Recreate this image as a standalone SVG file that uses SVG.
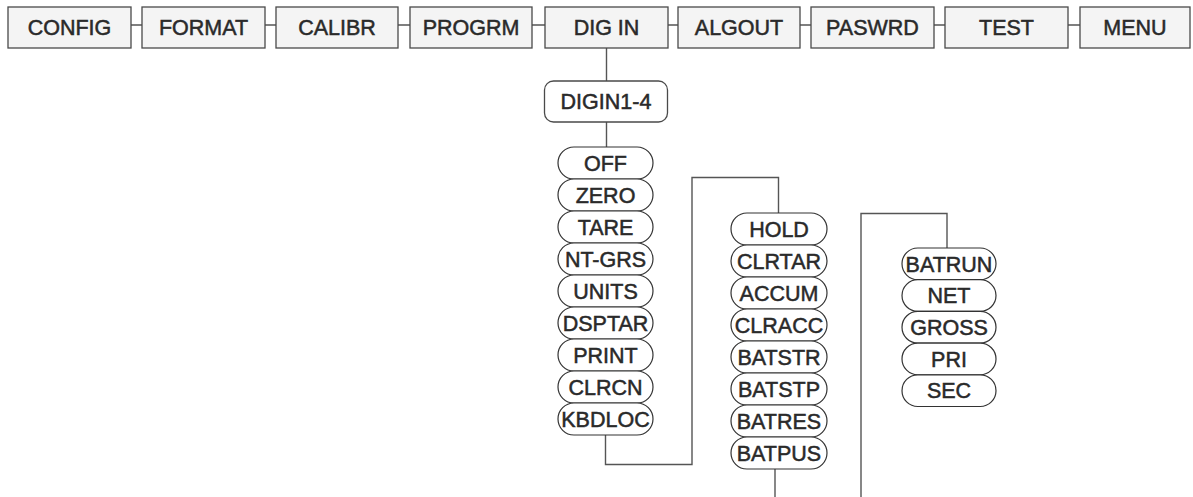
<svg xmlns="http://www.w3.org/2000/svg" width="1193" height="497" viewBox="0 0 1193 497">
<style>
.box{fill:#f4f4f4;stroke:#4a4a4a;stroke-width:1.3}
.rbox{fill:#ffffff;stroke:#4a4a4a;stroke-width:1.3}
.ov{fill:#ffffff;stroke:#333;stroke-width:1.2}
.ln{fill:none;stroke:#555;stroke-width:1.4}
.t{font-family:"Liberation Sans",Arial,sans-serif;font-size:21.5px;fill:#2a2a2a;stroke:#2a2a2a;stroke-width:0.5;text-anchor:middle}
.o{font-family:"Liberation Sans",Arial,sans-serif;font-size:21.5px;fill:#2a2a2a;stroke:#2a2a2a;stroke-width:0.5;text-anchor:middle}
</style>
<rect width="1193" height="497" fill="#ffffff"/>
<g id="connectors">
<path class="ln" d="M131 25H142M265 25H276M398 25H410M532 25H545M668 25H678M800 25H811M934 25H945M1068 25H1080"/>
<path class="ln" d="M606.5 48V81M606.5 122V147"/>
<path class="ln" d="M605.5 433V464.5H692V177.5H778.5V213"/>
<path class="ln" d="M775 469V497"/>
<path class="ln" d="M861 497V213.5H947V248"/>
</g>
<g id="n-config"><rect class="box" x="8" y="7" width="123" height="41"/><text class="t" x="69.5" y="35">CONFIG</text></g>
<g id="n-format"><rect class="box" x="142" y="7" width="123" height="41"/><text class="t" x="203.5" y="35">FORMAT</text></g>
<g id="n-calibr"><rect class="box" x="276" y="7" width="122" height="41"/><text class="t" x="337" y="35">CALIBR</text></g>
<g id="n-progrm"><rect class="box" x="410" y="7" width="122" height="41"/><text class="t" x="471" y="35">PROGRM</text></g>
<g id="n-digin"><rect class="box" x="545" y="7" width="123" height="41"/><text class="t" x="606.5" y="35">DIG IN</text></g>
<g id="n-algout"><rect class="box" x="678" y="7" width="122" height="41"/><text class="t" x="739" y="35">ALGOUT</text></g>
<g id="n-paswrd"><rect class="box" x="811" y="7" width="123" height="41"/><text class="t" x="872.5" y="35">PASWRD</text></g>
<g id="n-test"><rect class="box" x="945" y="7" width="123" height="41"/><text class="t" x="1006.5" y="35">TEST</text></g>
<g id="n-menu"><rect class="box" x="1080" y="7" width="110" height="41"/><text class="t" x="1135" y="35">MENU</text></g>
<g id="n-digin14"><rect class="rbox" x="544.5" y="81" width="123" height="41" rx="9"/><text class="t" x="606" y="109">DIGIN1-4</text></g>
<g id="n-off"><rect class="ov" x="558" y="147" width="95" height="32" rx="16"/><text class="o" x="605.5" y="170.5">OFF</text></g>
<g id="n-zero"><rect class="ov" x="558" y="179" width="95" height="32" rx="16"/><text class="o" x="605.5" y="202.5">ZERO</text></g>
<g id="n-tare"><rect class="ov" x="558" y="211" width="95" height="32" rx="16"/><text class="o" x="605.5" y="234.5">TARE</text></g>
<g id="n-ntgrs"><rect class="ov" x="558" y="243" width="95" height="32" rx="16"/><text class="o" x="605.5" y="266.5">NT-GRS</text></g>
<g id="n-units"><rect class="ov" x="558" y="275" width="95" height="32" rx="16"/><text class="o" x="605.5" y="298.5">UNITS</text></g>
<g id="n-dsptar"><rect class="ov" x="558" y="307" width="95" height="32" rx="16"/><text class="o" x="605.5" y="330.5">DSPTAR</text></g>
<g id="n-print"><rect class="ov" x="558" y="339" width="95" height="32" rx="16"/><text class="o" x="605.5" y="362.5">PRINT</text></g>
<g id="n-clrcn"><rect class="ov" x="558" y="371" width="95" height="32" rx="16"/><text class="o" x="605.5" y="394.5">CLRCN</text></g>
<g id="n-kbdloc"><rect class="ov" x="558" y="403" width="95" height="32" rx="16"/><text class="o" x="605.5" y="426.5">KBDLOC</text></g>
<g id="n-hold"><rect class="ov" x="731" y="213" width="96" height="32" rx="16"/><text class="o" x="779" y="236.5">HOLD</text></g>
<g id="n-clrtar"><rect class="ov" x="731" y="245" width="96" height="32" rx="16"/><text class="o" x="779" y="268.5">CLRTAR</text></g>
<g id="n-accum"><rect class="ov" x="731" y="277" width="96" height="32" rx="16"/><text class="o" x="779" y="300.5">ACCUM</text></g>
<g id="n-clracc"><rect class="ov" x="731" y="309" width="96" height="32" rx="16"/><text class="o" x="779" y="332.5">CLRACC</text></g>
<g id="n-batstr"><rect class="ov" x="731" y="341" width="96" height="32" rx="16"/><text class="o" x="779" y="364.5">BATSTR</text></g>
<g id="n-batstp"><rect class="ov" x="731" y="373" width="96" height="32" rx="16"/><text class="o" x="779" y="396.5">BATSTP</text></g>
<g id="n-batres"><rect class="ov" x="731" y="405" width="96" height="32" rx="16"/><text class="o" x="779" y="428.5">BATRES</text></g>
<g id="n-batpus"><rect class="ov" x="731" y="437" width="96" height="32" rx="16"/><text class="o" x="779" y="460.5">BATPUS</text></g>
<g id="n-batrun"><rect class="ov" x="902" y="248" width="94" height="31.7" rx="15.85"/><text class="o" x="949" y="271.5">BATRUN</text></g>
<g id="n-net"><rect class="ov" x="902" y="279.7" width="94" height="31.7" rx="15.85"/><text class="o" x="949" y="303.2">NET</text></g>
<g id="n-gross"><rect class="ov" x="902" y="311.4" width="94" height="31.7" rx="15.85"/><text class="o" x="949" y="334.9">GROSS</text></g>
<g id="n-pri"><rect class="ov" x="902" y="343.1" width="94" height="31.7" rx="15.85"/><text class="o" x="949" y="366.6">PRI</text></g>
<g id="n-sec"><rect class="ov" x="902" y="374.8" width="94" height="31.7" rx="15.85"/><text class="o" x="949" y="398.3">SEC</text></g>
</svg>
